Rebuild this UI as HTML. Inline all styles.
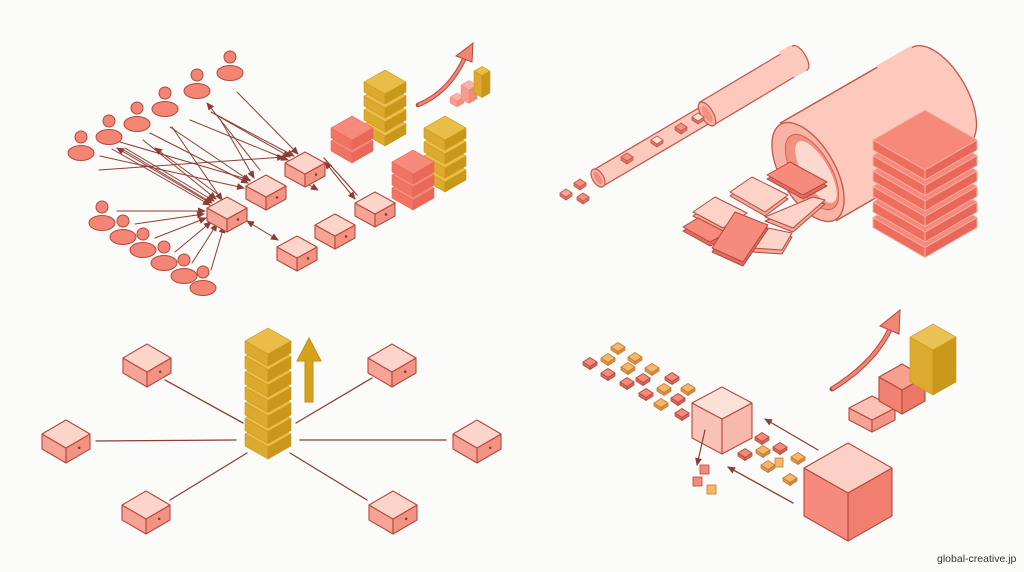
<!DOCTYPE html>
<html><head><meta charset="utf-8">
<style>
html,body{margin:0;padding:0;background:#fbfbfa;width:1024px;height:572px;overflow:hidden}
svg{display:block}
.wm{position:absolute;left:937px;top:553px;font:10.5px "Liberation Sans",sans-serif;color:#333}
</style></head>
<body>
<svg id="s" width="1024" height="572" viewBox="0 0 1024 572" xmlns="http://www.w3.org/2000/svg">
<defs>
<marker id="ah" markerWidth="8" markerHeight="8" refX="7" refY="4" orient="auto" markerUnits="userSpaceOnUse">
<path d="M0,0.5 L8,4 L0,7.5 Z" fill="#8e3d33"/></marker>
<marker id="as" markerWidth="8" markerHeight="8" refX="1" refY="4" orient="auto" markerUnits="userSpaceOnUse">
<path d="M8,0.5 L0,4 L8,7.5 Z" fill="#8e3d33"/></marker>
</defs>
<g id="g"></g>
</svg>
<div class="wm">global-creative.jp</div>
<script>
var out=[];
function P(pts,fill,stroke,sw){out.push('<polygon points="'+pts.map(function(p){return p[0].toFixed(1)+','+p[1].toFixed(1)}).join(' ')+'" fill="'+fill+'" stroke="'+(stroke||'none')+'" stroke-width="'+(sw||1)+'" stroke-linejoin="round"/>');}
function L(x1,y1,x2,y2,opt){opt=opt||{};out.push('<line x1="'+x1+'" y1="'+y1+'" x2="'+x2+'" y2="'+y2+'" stroke="'+(opt.c||'#8e3d33')+'" stroke-width="'+(opt.w||1.2)+'"'+(opt.e?' marker-end="url(#ah)"':'')+(opt.s?' marker-start="url(#as)"':'')+' stroke-linecap="'+(opt.cap||'round')+'"/>');}
function R(s){out.push(s);}
// iso box: cx, cy = center of top face, hw half width, hh half height, d depth
function box(cx,cy,hw,hh,d,c,dot){
  var T=[[cx,cy-hh],[cx+hw,cy],[cx,cy+hh],[cx-hw,cy]];
  P([[cx-hw,cy],[cx,cy+hh],[cx,cy+hh+d],[cx-hw,cy+d]],c[1],c[3],c[4]||1.1);
  P([[cx,cy+hh],[cx+hw,cy],[cx+hw,cy+d],[cx,cy+hh+d]],c[2],c[3],c[4]||1.1);
  P(T,c[0],c[3],c[4]||1.1);
  if(dot) R('<circle cx="'+(cx+hw*0.55)+'" cy="'+(cy+hh*0.45+d*0.5)+'" r="1.3" fill="#8e3d33"/>');
}
var SRV=['#fcd5ca','#f4a394','#f19282','#b5483c'];
var GOLD=['#e9bd48','#dcaa2e','#c9971a','#c9971a',0.6];
var RED=['#f68a7c','#ef7464','#e9685a','#e9685a',0.6];
var LRED=['#fbb3a6','#f48b7c','#ef7d6e','#b5483c'];
function stack(cx,cy,hw,hh,n,step,d,c){for(var i=n-1;i>=0;i--)box(cx,cy+i*step,hw,hh,d,c);}
function person(x,y){R('<ellipse cx="'+x+'" cy="'+(y+16)+'" rx="13" ry="7.5" fill="#f28574" stroke="#b5483c" stroke-width="1"/><circle cx="'+x+'" cy="'+y+'" r="6" fill="#f28574" stroke="#b5483c" stroke-width="1"/>');}

// ===== Panel 1 =====
var up=[[230,57],[197,75],[165,93],[137,108],[109,121],[81,137]];
var lo=[[102,207],[123,221],[143,234],[164,247],[184,260],[203,272]];
var S=[[305,163],[266,186],[227,208],[375,203],[335,225],[297,247]];
// arrows from upper persons
var ar=[[237,92,298,154],[211,112,294,156],[211,112,290,157],[220,119,254,178],[190,120,288,160],[170,127,250,181],[172,127,222,200],[150,133,248,183],[143,140,216,199],[120,142,250,180],[125,148,214,201],[124,150,212,203],[100,156,244,188],[112,149,210,205],[99,170,284,157]];
ar.forEach(function(a){L(a[0],a[1],a[2],a[3],{e:1,w:1});});
L(260,170,207,103,{e:1,w:1});L(220,196,155,148,{e:1,w:1});L(205,200,117,148,{e:1,w:1});
// lower arrows
L(117,211,205,211,{e:1,w:1});L(135,224,204,214,{e:1,w:1});L(155,238,206,218,{e:1,w:1});
L(175,252,211,222,{e:1,w:1});L(192,263,217,224,{e:1,w:1});L(211,270,224,226,{e:1,w:1});
// server links
L(287,172,318,190,{e:1,s:1,w:1});L(324,158,357,195,{e:0,w:0});
L(325,162,355,199,{e:1,s:1,w:1});L(247,221,278,240,{e:1,s:1,w:1});
up.forEach(function(p){person(p[0],p[1]);});lo.forEach(function(p){person(p[0],p[1]);});
S.forEach(function(s){box(s[0],s[1],20,11,13,SRV,1);});
// stacks
stack(385,82,21,12,4,14,10,GOLD);
stack(352,128,21,12,2,13,10,RED);
stack(445,128,21,12,4,14,10,GOLD);
stack(413,162,21,12,3,13,10,RED);
box(457,97,7,4,6,['#fbb3a6','#f69c8e','#f08a7a','#f08a7a',0.5]);
box(469,85,8,4.5,14,['#fbb3a6','#f69c8e','#f08a7a','#f08a7a',0.5]);
box(482,71,8,4.5,22,GOLD);
R('<path d="M418,105 Q450,92 466,55" fill="none" stroke="#b5483c" stroke-width="4.5" stroke-linecap="round"/><path d="M418,105 Q450,92 466,55" fill="none" stroke="#f28574" stroke-width="2.5"/><polygon points="473,43 472,62 456,56" fill="#f28574" stroke="#b5483c" stroke-width="1"/>');

// ===== Panel 2 =====
// thin tube
R('<line x1="600" y1="177" x2="712" y2="111" stroke="#c4574a" stroke-width="20"/><line x1="600" y1="177" x2="712" y2="111" stroke="#fcc9bc" stroke-width="17.5"/>');
R('<line x1="706" y1="114" x2="800" y2="58" stroke="#c4574a" stroke-width="28"/><line x1="706" y1="114" x2="800" y2="58" stroke="#fcc9bc" stroke-width="25.5"/>');
R('<ellipse cx="800" cy="58" rx="6" ry="14" transform="rotate(-31 800 58)" fill="#fcc9bc" stroke="#c4574a" stroke-width="1.2"/>');
R('<rect x="785" y="42" width="14" height="30" fill="#fcc9bc" transform="rotate(-31 800 58)"/>');
R('<ellipse cx="707" cy="114" rx="6" ry="13.5" transform="rotate(-31 707 114)" fill="#f9b3a5" stroke="#c4574a" stroke-width="1.2"/><ellipse cx="707" cy="114" rx="3.5" ry="9" transform="rotate(-31 707 114)" fill="#f3907f"/>');
R('<ellipse cx="598" cy="178" rx="5.5" ry="10" transform="rotate(-31 598 178)" fill="#f9b3a5" stroke="#c4574a" stroke-width="1.2"/><ellipse cx="598" cy="178" rx="3" ry="7" transform="rotate(-31 598 178)" fill="#f08a7a"/>');
[[627,157,'#f5907f'],[657,140,'#fde0d8'],[681,127,'#f5907f'],[698,117,'#fde0d8'],[580,183,'#f5907f'],[566,193,'#f8a898'],[583,197,'#f5907f']].forEach(function(q){box(q[0],q[1],6,4,3,[q[2],'#e37868','#e37868','#c4574a',0.8]);});
// big cylinder
R('<line x1="808" y1="172" x2="940" y2="96" stroke="#c4574a" stroke-width="114"/><line x1="808" y1="172" x2="940" y2="96" stroke="#fcc9bc" stroke-width="111"/>');
R('<ellipse cx="940" cy="96" rx="27" ry="56" transform="rotate(-30 940 96)" fill="#fcc9bc" stroke="#c4574a" stroke-width="1.3"/><rect x="900" y="38" width="40" height="116" fill="#fcc9bc" transform="rotate(-30 940 96)"/>');
R('<ellipse cx="808" cy="172" rx="27" ry="55" transform="rotate(-30 808 172)" fill="#f9b3a5" stroke="#c4574a" stroke-width="1.3"/><ellipse cx="812" cy="172" rx="19" ry="42" transform="rotate(-30 812 172)" fill="#f3907f" stroke="#c4574a" stroke-width="0.8"/><ellipse cx="816" cy="172" rx="13" ry="35" transform="rotate(-30 816 172)" fill="#fcd8ce"/>');
function slab(pts,top,side){var q=pts.map(function(p){return [p[0],p[1]+4];});P(q,side,'#b5483c',1);P(pts,top,'#b5483c',1);}
slab([[767,175],[790,162],[827,182],[803,195]],'#f68a7c','#e06c5e');
slab([[765,217],[813,197],[825,200],[793,228]],'#fdd3c8','#f2a898');
slab([[730,192],[752,177],[788,195],[765,212]],'#fdd3c8','#f2a898');
slab([[753,248],[763,227],[792,233],[782,250]],'#fdd3c8','#f2a898');
slab([[693,212],[715,197],[747,213],[723,228]],'#fdd3c8','#f2a898');
slab([[683,227],[698,218],[727,233],[710,242]],'#f68a7c','#e06c5e');
slab([[712,248],[735,212],[768,225],[743,262]],'#f68a7c','#e06c5e');
for(var i=5;i>=0;i--)box(925,140+i*15.5,52,30,10,['#f6897a','#ee6e5e','#e9665a','#f2b0a4',1]);

// ===== Panel 3 =====
L(165,380,243,423,{w:1.3});L(96,441,236,440,{w:1.3});L(170,500,247,453,{w:1.3});
L(372,378,296,423,{w:1.3});L(300,440,446,440,{w:1.3});L(290,453,367,500,{w:1.3});
[[147,358],[392,358],[66,434],[477,434],[146,505],[393,505]].forEach(function(s){box(s[0],s[1],24,14,15,SRV,1);});
for(var i=6;i>=0;i--)box(268,341+i*15.5,23,13,12,GOLD);
R('<polygon points="309,338 321,361 313,361 313,402 305,402 305,361 297,361" fill="#d6a21e" stroke="#c08f12" stroke-width="1"/>');

// ===== Panel 4 =====
var sq=[[590,362,0],[608,358,1],[618,347,1],[635,357,1],[608,373,0],[628,367,1],[652,368,1],[627,382,0],[643,378,0],[672,377,0],[646,393,0],[664,388,1],[688,388,1],[661,403,1],[678,398,0],[682,413,0],[740,435,0],[762,437,0],[745,453,0],[763,450,1],[780,447,0],[768,465,1],[798,457,1],[790,478,1]];
sq.forEach(function(q){var c=q[2]?['#f4b866','#e29a45','#d98f3a','#c57a3a',0.8]:['#f48a7a','#e06c5e','#d9665a','#b5483c',0.8];box(q[0],q[1],7,4.5,3,c);});
R('<rect x="700" y="465" width="9" height="9" fill="#f48a7a" stroke="#b5483c" stroke-width="0.8"/><rect x="693" y="477" width="9" height="9" fill="#f48a7a" stroke="#b5483c" stroke-width="0.8"/><rect x="707" y="485" width="9" height="9" fill="#f4b866" stroke="#c57a3a" stroke-width="0.8"/><rect x="775" y="458" width="8" height="9" fill="#f4b866" stroke="#c57a3a" stroke-width="0.8"/>');
box(722,403,30,16,35,['#fde0d8','#f8c3b7','#f6b8aa','#b5483c']);
L(705,430,697,465,{e:1,w:1.2});
L(818,450,765,419,{e:1,w:1.3});L(793,503,728,467,{e:1,w:1.3});
box(848,468,44,25,48,['#fcd0c4','#f68a7c','#f27e6f','#b5483c']);
box(872,408,23,12,12,['#fcc0b4','#f5a394','#f29585','#b5483c']);
box(902,377,23,13,24,['#f8a090','#f18272','#ee7868','#b5483c']);
box(933,337,23,13,45,['#e9c154','#dcaa2e','#c9971a','#c9971a',0.6]);
R('<path d="M832,389 Q876,362 892,325" fill="none" stroke="#b5483c" stroke-width="5" stroke-linecap="round"/><path d="M832,389 Q876,362 892,325" fill="none" stroke="#f28574" stroke-width="3"/><polygon points="900,310 899,334 880,326" fill="#f28574" stroke="#b5483c" stroke-width="1"/>');

document.getElementById('g').innerHTML=out.join('');
</script>
</body></html>
